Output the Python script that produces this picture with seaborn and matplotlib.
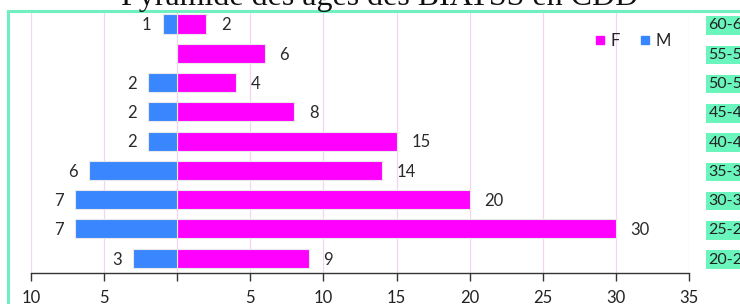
"""Pyramide des âges des BIATSS en CDD."""

import matplotlib

matplotlib.use("Agg")
import matplotlib.pyplot as plt
import pandas as pd
import seaborn as sns
from matplotlib.lines import Line2D
from matplotlib.patches import Rectangle

AGES = ["60-64", "55-59", "50-54", "45-49", "40-44", "35-39", "30-34", "25-29", "20-24"]
FEMMES = [2, 6, 4, 8, 15, 14, 20, 30, 9]
HOMMES = [1, 0, 2, 2, 2, 6, 7, 7, 3]
XTICKS = [-10, -5, 0, 5, 10, 15, 20, 25, 30, 35]
XTICK_LABELS = ["10", "5", "", "5", "10", "15", "20", "25", "30", "35"]

ROSE = "#ff00ff"
BLEU = "#3a86ff"
VERT = "#6af5bd"

sns.set_theme(style="white")
plt.rcParams["font.family"] = ["Lato", "DejaVu Sans"]

df = pd.DataFrame({"age": AGES, "F": FEMMES, "M": [-h for h in HOMMES]})

fig = plt.figure(figsize=(7.4, 3.04), dpi=100)
ax = fig.add_axes([31 / 740, 1 - 273 / 304, 658 / 740, 261 / 304])

sns.barplot(data=df, x="F", y="age", order=AGES, orient="h", color=ROSE,
            width=0.65, edgecolor="#e8e8e8", linewidth=0.8, saturation=1, ax=ax)
sns.barplot(data=df, x="M", y="age", order=AGES, orient="h", color=BLEU,
            width=0.65, edgecolor="#e8e8e8", linewidth=0.8, saturation=1, ax=ax)

for i, (f, h) in enumerate(zip(FEMMES, HOMMES)):
    ax.text(f + 1.0, i + 0.05, str(f), ha="left", va="center", fontsize=12, color="#2a2a2a")
    if h:
        ax.text(-h - 1.1, i + 0.05, str(h), ha="center", va="center", fontsize=12, color="#2a2a2a")

ax.set_xlim(-10, 35)
ax.set_ylim(8.51, -0.41)
ax.set_xticks(XTICKS)
ax.set_xticklabels(XTICK_LABELS, fontsize=12, color="#222222")
ax.tick_params(axis="x", bottom=True, length=6, width=1, color="#333333", pad=6)
ax.set_xlabel("")
ax.set_ylabel("")
ax.grid(axis="x", color="#f6d2f6", linewidth=0.9)
ax.set_axisbelow(True)
for s in ["left", "top", "right"]:
    ax.spines[s].set_visible(False)
ax.spines["bottom"].set_color("#333333")
ax.spines["bottom"].set_linewidth(1)

ax.yaxis.tick_right()
ax.tick_params(axis="y", right=False, length=0, pad=14, labelsize=11.5)
for lab in ax.get_yticklabels():
    lab.set_color("#222222")
    lab.set_bbox(dict(facecolor=VERT, edgecolor="none", pad=1.6))

handles = [
    Line2D([], [], marker="s", linestyle="", color=ROSE, markersize=5.5),
    Line2D([], [], marker="s", linestyle="", color=BLEU, markersize=5.5),
]
ax.legend(handles, ["F", "M"], loc="center left", bbox_to_anchor=(595 / 740, 1 - 41 / 304),
          bbox_transform=fig.transFigure, ncol=2, frameon=False, fontsize=12,
          handletextpad=0.3, columnspacing=1.25, handlelength=0.6, borderpad=0,
          borderaxespad=0)

fig.add_artist(Rectangle((8 / 740, -0.2), 1.2, 1.2 - 11 / 304, transform=fig.transFigure,
                         fill=False, edgecolor="#70f0c0", linewidth=2.2, clip_on=False))

fig.text(0.513, 1 - 5 / 304, "Pyramide des âges des BIATSS en CDD", ha="center",
         va="baseline", fontsize=23, family=["Liberation Serif", "DejaVu Serif"], color="#111111")

fig.savefig("out.png", dpi=100)
plt.close(fig)
